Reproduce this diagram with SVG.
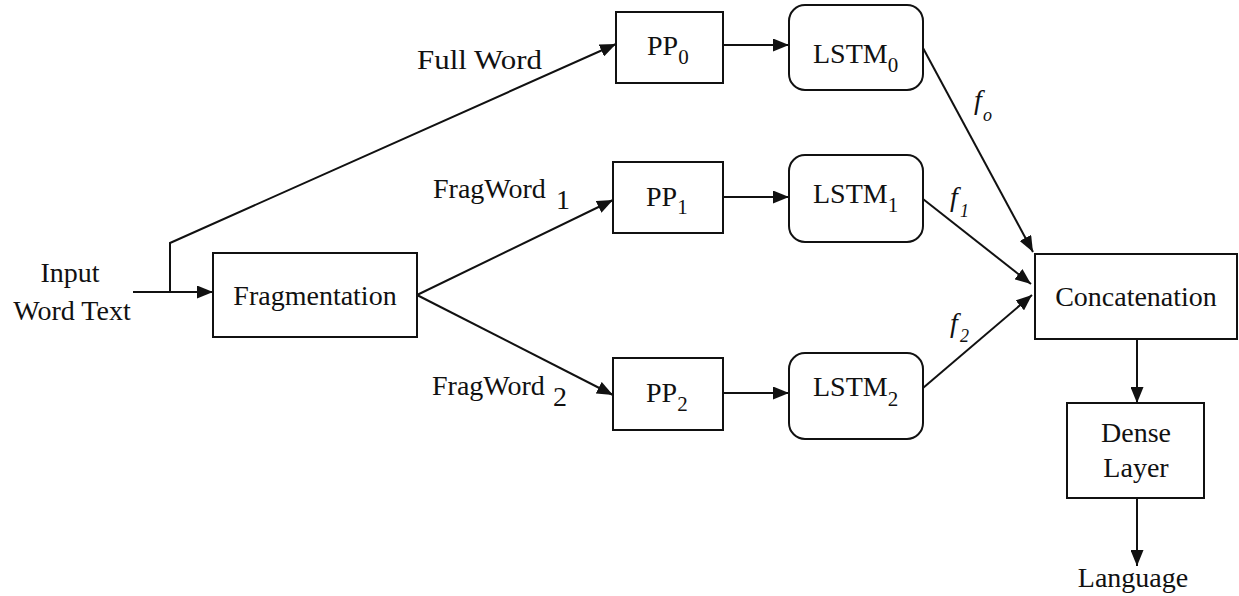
<svg xmlns="http://www.w3.org/2000/svg" width="1239" height="596" viewBox="0 0 1239 596">
  <style>
    .box { fill: #ffffff; stroke: #111111; stroke-width: 2; }
    .link { fill: none; stroke: #111111; stroke-width: 2; }
    text { font-family: "Liberation Serif", "Times New Roman", Times, Tinos, "Noto Serif", "DejaVu Serif", FreeSerif, "Nimbus Roman", "Nimbus Roman No9 L", serif; fill: #111111; }
    .lbl { font-size: 28px; }
    .sub { font-size: 21px; }
    .it { font-style: italic; }
  </style>
  <defs>
    <marker id="arrow" markerUnits="userSpaceOnUse" markerWidth="16" markerHeight="13" refX="16" refY="6.5" orient="auto">
      <path d="M0,0 L16,6.5 L0,13 z" fill="#111111"/>
    </marker>
  </defs>

  <rect width="1239" height="596" fill="#ffffff"/>

  <!-- connectors -->
  <g id="connectors">
    <line class="link" x1="133" y1="292" x2="213" y2="292" marker-end="url(#arrow)"/>
    <polyline class="link" points="170,292 170,243 616,44" marker-end="url(#arrow)"/>
    <line class="link" x1="417" y1="295" x2="613" y2="200" marker-end="url(#arrow)"/>
    <line class="link" x1="417" y1="295" x2="613" y2="395" marker-end="url(#arrow)"/>
    <line class="link" x1="723" y1="45" x2="789" y2="45" marker-end="url(#arrow)"/>
    <line class="link" x1="723" y1="197" x2="789" y2="197" marker-end="url(#arrow)"/>
    <line class="link" x1="723" y1="393" x2="789" y2="393" marker-end="url(#arrow)"/>
    <line class="link" x1="923" y1="48" x2="1033" y2="252" marker-end="url(#arrow)"/>
    <line class="link" x1="923" y1="199" x2="1031" y2="284" marker-end="url(#arrow)"/>
    <line class="link" x1="923" y1="388" x2="1032" y2="295" marker-end="url(#arrow)"/>
    <line class="link" x1="1137" y1="339" x2="1137" y2="403" marker-end="url(#arrow)"/>
    <line class="link" x1="1137" y1="498" x2="1137" y2="566" marker-end="url(#arrow)"/>

    <!-- edge labels -->
    <text class="lbl" x="417" y="69" textLength="125" lengthAdjust="spacingAndGlyphs">Full Word</text>
    <text class="lbl" x="433" y="198">FragWord</text>
    <text class="lbl" x="556" y="209" font-size="24">1</text>
    <text class="lbl" x="432" y="395">FragWord</text>
    <text class="lbl" x="553" y="406" font-size="24">2</text>
    <text class="it" x="974" y="109" font-size="28">f</text>
    <text class="it" x="983" y="121" font-size="18">o</text>
    <text class="it" x="950" y="206" font-size="28">f</text>
    <text class="it" x="960" y="217" font-size="18">1</text>
    <text class="it" x="950" y="332" font-size="28">f</text>
    <text class="it" x="960" y="342" font-size="18">2</text>
  </g>

  <!-- input label -->
  <g id="input">
    <text class="lbl" x="70" y="282" text-anchor="middle">Input</text>
    <text class="lbl" x="72" y="320" text-anchor="middle">Word Text</text>
  </g>

  <g id="fragmentation">
    <rect class="box" x="213" y="253" width="204" height="84"/>
    <text class="lbl" x="315" y="305" text-anchor="middle">Fragmentation</text>
  </g>

  <g id="pp0">
    <rect class="box" x="616" y="12" width="107" height="71"/>
    <text class="lbl" x="647" y="55">PP<tspan class="sub" dy="9">0</tspan></text>
  </g>
  <g id="pp1">
    <rect class="box" x="613" y="162" width="110" height="71"/>
    <text class="lbl" x="646" y="206">PP<tspan class="sub" dy="8">1</tspan></text>
  </g>
  <g id="pp2">
    <rect class="box" x="613" y="358" width="110" height="72"/>
    <text class="lbl" x="646" y="402">PP<tspan class="sub" dy="9">2</tspan></text>
  </g>

  <g id="lstm0">
    <rect class="box" x="789" y="5" width="134" height="85" rx="16" ry="16"/>
    <text class="lbl" x="813" y="63">LSTM<tspan class="sub" dy="9">0</tspan></text>
  </g>
  <g id="lstm1">
    <rect class="box" x="789" y="155" width="134" height="87" rx="16" ry="16"/>
    <text class="lbl" x="813" y="203">LSTM<tspan class="sub" dy="9">1</tspan></text>
  </g>
  <g id="lstm2">
    <rect class="box" x="789" y="353" width="134" height="86" rx="16" ry="16"/>
    <text class="lbl" x="813" y="396">LSTM<tspan class="sub" dy="10">2</tspan></text>
  </g>

  <g id="concatenation">
    <rect class="box" x="1035" y="254" width="202" height="85"/>
    <text class="lbl" x="1136" y="306" text-anchor="middle">Concatenation</text>
  </g>

  <g id="dense">
    <rect class="box" x="1067" y="403" width="137" height="95"/>
    <text class="lbl" x="1136" y="442" text-anchor="middle">Dense</text>
    <text class="lbl" x="1136" y="477" text-anchor="middle">Layer</text>
  </g>

  <g id="output">
    <text class="lbl" x="1133" y="587" text-anchor="middle">Language</text>
  </g>
</svg>
